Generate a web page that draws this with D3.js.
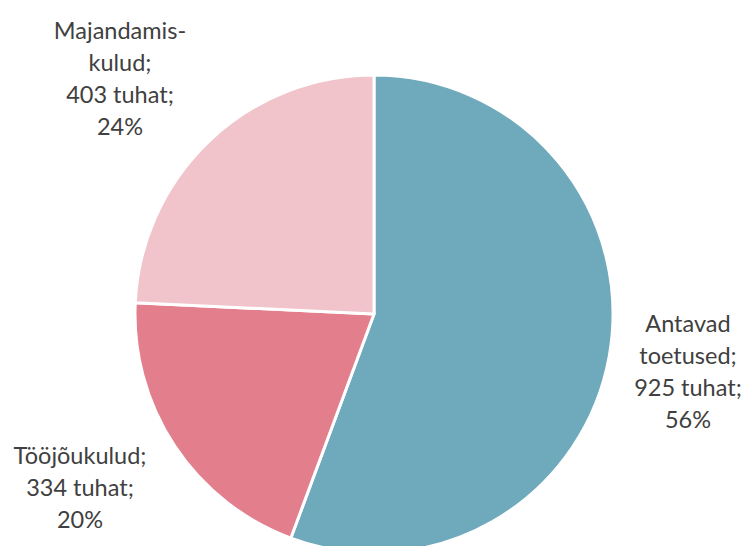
<!DOCTYPE html>
<html>
<head>
<meta charset="utf-8">
<script src="https://cdn.jsdelivr.net/npm/d3@7"></script>
<style>
  body { margin: 0; background: #fff; }
  text { font-family: Lato, "Open Sans", sans-serif; font-size: 23.5px; fill: #404040; }
</style>
</head>
<body>
<div class="chart"></div>
<script>
// data
var categories = ["Antavad toetused", "Tööjõukulud", "Majandamiskulud"];
var values = [925, 334, 403];
var percents = ["56%", "20%", "24%"];
// label lines as shown in the chart
var labelLines = [
  ["Antavad", "toetused;", "925 tuhat;", "56%"],
  ["Tööjõukulud;", "334 tuhat;", "20%"],
  ["Majandamis-", "kulud;", "403 tuhat;", "24%"]
];
var colors = ["#6FA9BC", "#E37E8D", "#F1C3CA"];

var width = 745, height = 546;
var cx = 374, cy = 314, radius = 239;

var svg = d3.select(".chart").append("svg")
    .attr("width", width)
    .attr("height", height);

var g = svg.append("g")
    .attr("transform", "translate(" + cx + "," + cy + ")");

var pie = d3.pie().sort(null).value(function(d) { return d; });
var arc = d3.arc().innerRadius(0).outerRadius(radius);

var arcs = pie(values);

g.selectAll("path")
    .data(arcs)
    .enter().append("path")
    .attr("d", arc)
    .attr("fill", function(d, i) { return colors[i]; })
    .attr("stroke", "#fff")
    .attr("stroke-width", 3)
    .attr("stroke-linejoin", "round");

// label centres (relative to pie centre), placed outside the slices
var labelPos = [[314, 58], [-294, 174], [-254, -235]];
var lineH = 32;

var labels = g.selectAll(".lbl")
    .data(arcs)
    .enter().append("text")
    .attr("class", "lbl")
    .attr("text-anchor", "middle")
    .attr("transform", function(d, i) {
      return "translate(" + labelPos[i][0] + "," + labelPos[i][1] + ")";
    });

labels.each(function(d, i) {
  var lines = labelLines[i];
  var t = d3.select(this);
  var y0 = -(lines.length - 1) / 2 * lineH;
  lines.forEach(function(s, k) {
    t.append("tspan")
      .attr("x", 0)
      .attr("y", y0 + k * lineH)
      .attr("dy", "0.35em")
      .text(s);
  });
});
</script>
</body>
</html>
